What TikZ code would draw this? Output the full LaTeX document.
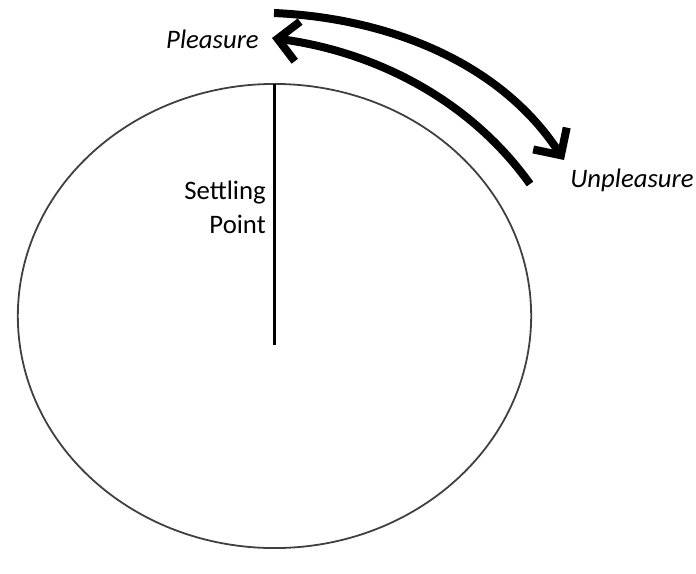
\documentclass[tikz,border=0pt]{standalone}
\usepackage{fontspec}
\setmainfont{Carlito}
\usetikzlibrary{arrows.meta,shapes.geometric}

\begin{document}
\begin{tikzpicture}[
    x=0.025cm, y=-0.025cm,
    lbl/.style={font=\fontsize{19}{24}\selectfont, inner sep=0pt},
    swing/.style={line width=0.2cm,
                  -{Straight Barb[length=0.5cm, width=1cm, line width=0.2cm]}}
]
\useasboundingbox (0,0) rectangle (696,573);
\node[ellipse, draw=black!75, line width=0.045cm, inner sep=0pt, outer sep=0pt,
      minimum width=12.83cm, minimum height=11.6cm] (dial) at (274.5,316) {};
\coordinate (settle) at (274.5,345);
\draw[line width=0.06cm] (dial.north) -- (settle);
\node[lbl, align=right, anchor=east] (sp) at (266,207) {Settling\\Point};
\node[lbl, anchor=east] (pl) at (259,39) {\itshape Pleasure};
\node[lbl, anchor=west] (up) at (570,180) {\itshape Unpleasure};
% the two swings
\coordinate (outS) at (274,13);
\coordinate (outE) at (564,160);
\coordinate (inS) at (530,184);
\coordinate (inE) at (272,38);
\draw[swing] (outS) .. controls (388,18) and (500,62) .. (outE);
\draw[swing] (inS) .. controls (470,100) and (376,52) .. (inE);
\end{tikzpicture}
\end{document}
